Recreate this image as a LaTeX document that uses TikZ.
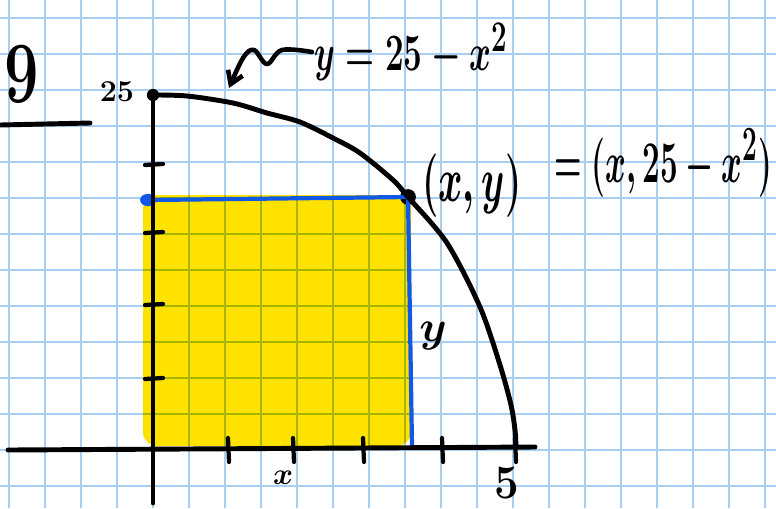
\documentclass[tikz,border=0pt]{standalone}
\usepackage{tikz}
\usepackage{graphicx}
\usetikzlibrary{arrows.meta}
\definecolor{gridblue}{RGB}{168,206,242}
\definecolor{marker}{RGB}{255,226,0}
\definecolor{penblue}{RGB}{18,88,230}

\begin{document}
\begin{tikzpicture}[x=0.02cm,y=-0.02cm,
  gridline/.style={gridblue,line width=1.1pt},
  ink/.style={black,line width=2.8pt,line cap=round,line join=round},
  tick/.style={black,line width=2.4pt,line cap=round},
  hilite/.style={fill=marker,rounded corners=8pt,blend mode=multiply},
  blueline/.style={penblue,line width=2.4pt},
  dot/.style={circle,fill=black,inner sep=0pt,minimum size=9pt},
  lbl/.style={inner sep=1pt,font=\fontsize{#1}{#1}\selectfont\boldmath},
  squig/.style={ink,line width=2.6pt,-{Straight Barb[length=7pt,width=9pt]}}
]
\useasboundingbox[fill=white] (0,0) rectangle (776,508);
\foreach \gx in {9,45,...,765} \draw[gridline] (\gx,0) -- (\gx,508);
\foreach \gy in {18,54,...,490} \draw[gridline] (0,\gy) -- (776,\gy);
\fill[hilite] (143,195) rectangle (411,446);

\coordinate (xl) at (8,450);
\coordinate (xr) at (535,447);
\coordinate (yb) at (153,503);
\coordinate (yt) at (153,95);
\coordinate (B) at (148,200);
\coordinate (Q) at (412,447);
\node[dot] (P) at (408,197) {};

\draw[blueline] (B) -- (P.center) -- (Q);
\fill[penblue] (B) ellipse (4.5pt and 3.5pt);
\draw[ink] (xl) -- (xr);
\draw[ink] (yb) -- (yt);
\fill (yt) circle (3.5pt);
\foreach \ty in {165,233,305,379} \draw[tick] (145,\ty) -- (163,\ty-1);
\foreach \tx in {228,293,363,442,515} \draw[tick] (\tx,438) -- (\tx+1,462);
\draw[ink] plot[smooth,tension=0.5] coordinates {(153,95) (187,96) (233,103) (267,113) (300,122) (333,138) (360,153) (393,180) (408,197) (447,243) (480,307) (500,365) (511,405) (515,430) (516,447)};

\node[lbl=18] (ymax) at (117,92) {$25$};
\node[lbl=30] (xmax) at (507,483) {\scalebox{1}[1.1]{$5$}};
\node[lbl=18] (xlab) at (283,478) {$x$};
\node[lbl=30] (ylab) at (433,336) {$y$};
\node[lbl=36,anchor=west] (pt) at (420,186) {\scalebox{0.85}[1.45]{$(x,y)$}};
\node[lbl=30,anchor=west] (pteq) at (552,163) {\scalebox{0.72}[1.35]{$=(x,25-x^2)$}};
\node[lbl=30,anchor=west] (curve) at (312,52) {\scalebox{0.76}[1.2]{$y=25-x^2$}};
\node[lbl=30] (num) at (22,74) {\scalebox{1.4}[2]{$9$}};
\coordinate (under1) at (0,125);
\coordinate (under2) at (90,123);
\draw[ink] (under1) -- (under2);
\draw[squig] plot[smooth,tension=0.6] coordinates {(curve.west) (282,50) (267,64) (254,50) (243,58) (229,88)};
\end{tikzpicture}
\end{document}
